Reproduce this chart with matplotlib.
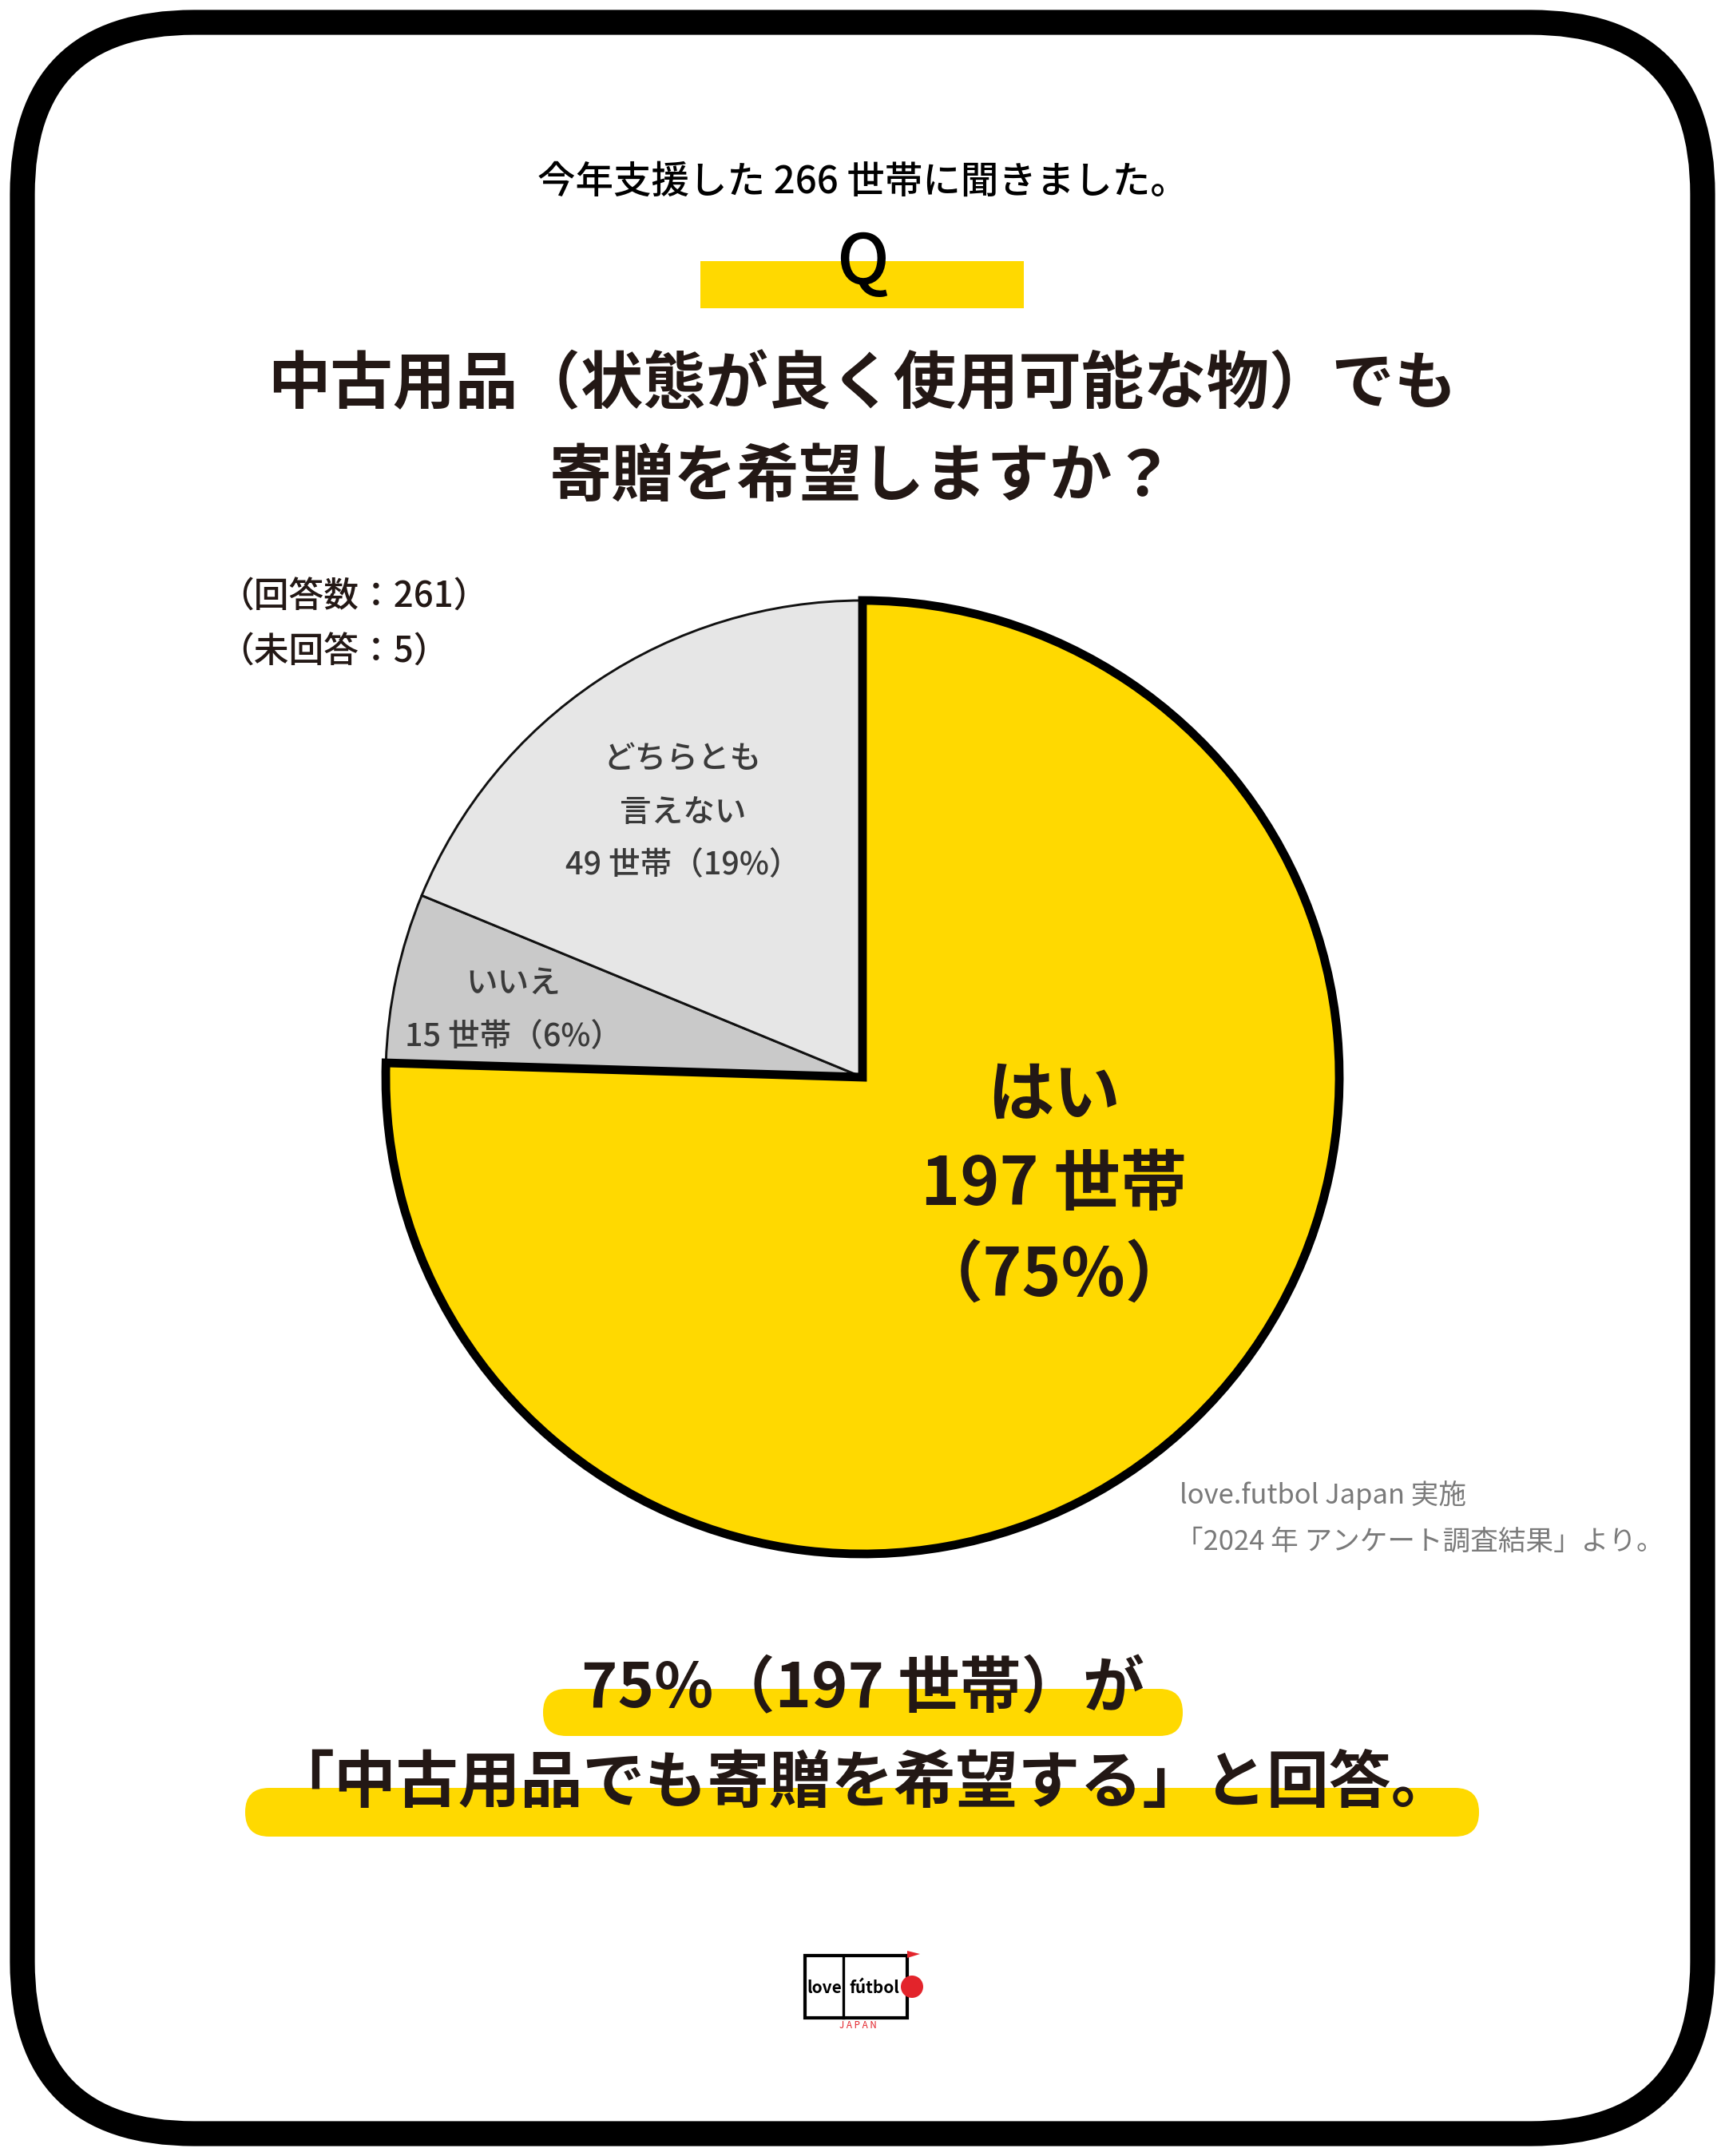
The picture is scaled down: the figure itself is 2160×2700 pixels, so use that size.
import matplotlib.pyplot as plt
from matplotlib.patches import FancyBboxPatch, Rectangle, Circle, Polygon

# survey data
labels = ["はい", "いいえ", "どちらとも言えない"]
counts = [197, 15, 49]
percents = [75, 6, 19]
colors = ["#FFD900", "#C9C9C9", "#E6E6E6"]
asked = 266
answered = 261
no_answer = 5

W, H = 2160, 2700
INK = "#231815"
GRAY_TXT = "#3A3A3A"

plt.rcParams['font.family'] = ['Noto Sans CJK JP', 'DejaVu Sans']

fig = plt.figure(figsize=(7.2, 9), dpi=300)
ax = fig.add_axes([0, 0, 1, 1])


def y(v):
    # picture rows counted from the top
    return H - v


# pie
wedges, _ = ax.pie(counts, colors=colors, startangle=90, counterclock=False,
                   center=(1080, y(1349)), radius=597,
                   wedgeprops=dict(edgecolor="#111111", linewidth=0.7))
wedges[0].set_linewidth(2.6)
wedges[0].set_zorder(3)
wedges[0].set_joinstyle("miter")
wedges[0].set_edgecolor("#000000")

ax.set_xlim(0, W)
ax.set_ylim(0, H)
ax.set_aspect("equal")
ax.axis("off")

# outer frame
ax.add_patch(FancyBboxPatch((28, 28), W - 56, H - 56,
                            boxstyle="round,pad=0,rounding_size=215",
                            fc="none", ec="black", lw=7.5, zorder=1))

# header
ax.text(1080, y(228), f"今年支援した {asked} 世帯に聞きました。", ha="center", va="center",
        fontsize=11.4, fontweight="medium", color="black")
ax.add_patch(Rectangle((877, y(386)), 405, 59, fc="#FFD900", ec="none", zorder=2))
ax.text(1080, y(330), "Q", ha="center", va="center", fontsize=21,
        fontweight="medium", color="black", zorder=3)
ax.text(1080, y(482), "中古用品（状態が良く使用可能な物）でも", ha="center", va="center",
        fontsize=18.8, fontweight="bold", color=INK)
ax.text(1080, y(599), "寄贈を希望しますか？", ha="center", va="center",
        fontsize=18.8, fontweight="bold", color=INK)

ax.text(274, y(748), f"（回答数：{answered}）", ha="left", va="center",
        fontsize=10.5, fontweight="medium", color=INK)
ax.text(274, y(817), f"（未回答：{no_answer}）", ha="left", va="center",
        fontsize=10.5, fontweight="medium", color=INK)

# slice labels
ax.text(1320, y(1372), labels[0], ha="center", va="center", fontsize=20,
        fontweight="bold", color=INK, zorder=5)
ax.text(1320, y(1485), f"{counts[0]} 世帯", ha="center", va="center", fontsize=20,
        fontweight="bold", color=INK, zorder=5)
ax.text(1320, y(1598), f"（{percents[0]}%）", ha="center", va="center", fontsize=20,
        fontweight="bold", color=INK, zorder=5)

ax.text(855, y(951), "どちらとも", ha="center", va="center", fontsize=9.5,
        fontweight="medium", color=GRAY_TXT, zorder=5)
ax.text(855, y(1018), "言えない", ha="center", va="center", fontsize=9.5,
        fontweight="medium", color=GRAY_TXT, zorder=5)
ax.text(855, y(1084), f"{counts[2]} 世帯（{percents[2]}%）", ha="center", va="center",
        fontsize=9.5, fontweight="medium", color=GRAY_TXT, zorder=5)

ax.text(643, y(1232), labels[1], ha="center", va="center", fontsize=9.5,
        fontweight="medium", color=GRAY_TXT, zorder=5)
ax.text(643, y(1299), f"{counts[1]} 世帯（{percents[1]}%）", ha="center", va="center",
        fontsize=9.5, fontweight="medium", color=GRAY_TXT, zorder=5)

# source
ax.text(1477, y(1872), "love.futbol Japan 実施", ha="left", va="center",
        fontsize=8.3, color="#7A7A7A")
ax.text(1472, y(1931), "「2024 年 アンケート調査結果」より。", ha="left", va="center",
        fontsize=8.3, color="#7A7A7A")

# conclusion with highlighter bars
ax.add_patch(FancyBboxPatch((680, y(2174)), 801, 59,
                            boxstyle="round,pad=0,rounding_size=29",
                            fc="#FFD900", ec="none", zorder=2))
ax.add_patch(FancyBboxPatch((307, y(2300)), 1545, 61,
                            boxstyle="round,pad=0,rounding_size=30",
                            fc="#FFD900", ec="none", zorder=2))
ax.text(1080, y(2116), f"{percents[0]}%（{counts[0]} 世帯）が", ha="center", va="center",
        fontsize=18.5, fontweight="bold", color=INK, zorder=3)
ax.text(1080, y(2234), "「中古用品でも寄贈を希望する」と回答。", ha="center", va="center",
        fontsize=18.7, fontweight="bold", color=INK, zorder=3)

# logo
ax.add_patch(Rectangle((1008, y(2527)), 128, 78, fc="none", ec="black", lw=1.0))
ax.plot([1056, 1056], [y(2449), y(2527)], color="black", lw=0.8)
ax.add_patch(Circle((1142, y(2488)), 14, fc="#E3242B", ec="none"))
ax.add_patch(Polygon([[1136, y(2443)], [1152, y(2447)], [1136, y(2452)]],
                     closed=True, fc="#E3242B", ec="none"))
ax.text(1032, y(2490), "love", ha="center", va="center", fontsize=5,
        fontweight="bold", color="black")
ax.text(1095, y(2490), "fútbol", ha="center", va="center", fontsize=5,
        fontweight="bold", color="black")
ax.text(1074, y(2536), "J A P A N", ha="center", va="center", fontsize=2.8,
        color="#E3242B")

fig.savefig("out.png", dpi=300)
